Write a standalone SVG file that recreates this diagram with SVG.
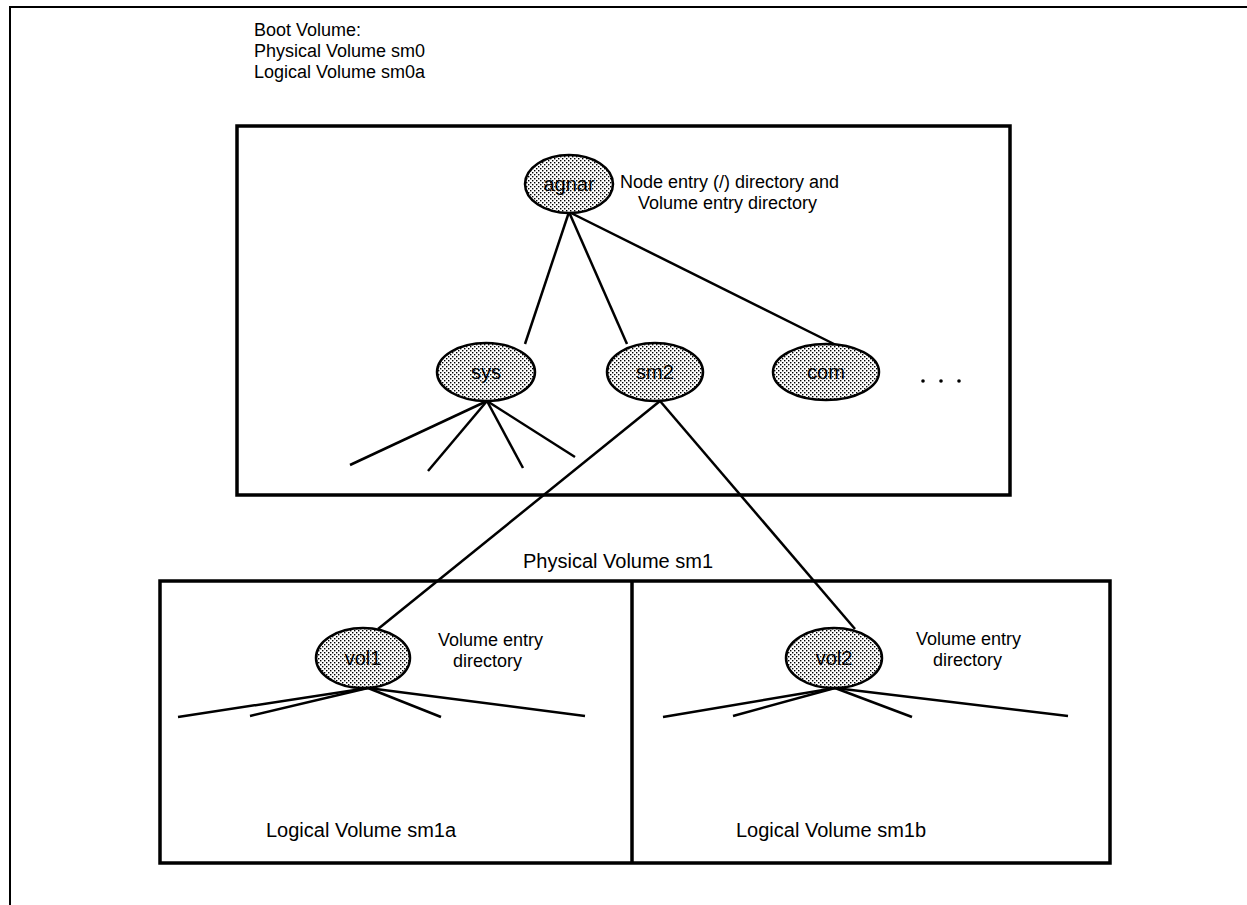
<svg xmlns="http://www.w3.org/2000/svg" width="1247" height="905" viewBox="0 0 1247 905">
<defs>
<pattern id="dots" width="4" height="4" patternUnits="userSpaceOnUse">
<rect width="4" height="4" fill="#ffffff"/>
<rect x="0" y="0" width="1.4" height="1.4" fill="#000"/>
<rect x="2" y="2" width="1.4" height="1.4" fill="#000"/>
</pattern>
<style>
.frame{fill:none;stroke:#000;stroke-width:2}
.box{fill:none;stroke:#000;stroke-width:3.5}
.node ellipse{fill:url(#dots);stroke:#000;stroke-width:2.5}
.node text{font-family:"Liberation Sans",Arial,sans-serif;font-size:20px;text-anchor:middle;fill:#000}
.lbl{font-family:"Liberation Sans",Arial,sans-serif;font-size:20px;fill:#000}
.stk{font-family:"Liberation Sans",Arial,sans-serif;font-size:18px;fill:#000}
.edge{stroke:#000;stroke-width:2.5;fill:none}
</style>
</defs>
<rect width="1247" height="905" fill="#fff"/>
<path class="frame" d="M10 905 V7 H1247"/>

<g id="labels">
<text class="stk" x="254" y="36">Boot Volume:</text>
<text class="stk" x="254" y="57">Physical Volume sm0</text>
<text class="stk" x="254" y="78">Logical Volume sm0a</text>
<text class="stk" x="620" y="188">Node entry (/) directory and</text>
<text class="stk" x="638" y="209">Volume entry directory</text>
<text class="lbl" x="523" y="568">Physical Volume sm1</text>
<text class="stk" x="438" y="646">Volume entry</text>
<text class="stk" x="453" y="667">directory</text>
<text class="stk" x="916" y="645">Volume entry</text>
<text class="stk" x="933" y="666">directory</text>
<text class="lbl" x="266" y="837">Logical Volume sm1a</text>
<text class="lbl" x="736" y="837">Logical Volume sm1b</text>
</g>

<g id="boxes">
<rect class="box" x="237" y="126" width="773" height="369"/>
<rect class="box" x="160" y="581" width="950" height="282"/>
<line class="box" x1="632" y1="581" x2="632" y2="863"/>
</g>

<g id="connectors">
<line class="edge" x1="569" y1="212" x2="525" y2="344"/>
<line class="edge" x1="569" y1="212" x2="627" y2="344"/>
<line class="edge" x1="569" y1="212" x2="838" y2="346"/>
<line class="edge" x1="487" y1="401" x2="350" y2="465"/>
<line class="edge" x1="487" y1="401" x2="428" y2="471"/>
<line class="edge" x1="487" y1="401" x2="523" y2="468"/>
<line class="edge" x1="487" y1="401" x2="575" y2="457"/>
<line class="edge" x1="660" y1="401" x2="378" y2="629"/>
<line class="edge" x1="660" y1="401" x2="855" y2="629"/>
<line class="edge" x1="368" y1="688" x2="178" y2="717"/>
<line class="edge" x1="368" y1="688" x2="250" y2="716"/>
<line class="edge" x1="368" y1="688" x2="441" y2="717"/>
<line class="edge" x1="368" y1="688" x2="585" y2="716"/>
<line class="edge" x1="835" y1="688" x2="663" y2="717"/>
<line class="edge" x1="835" y1="688" x2="733" y2="716"/>
<line class="edge" x1="835" y1="688" x2="912" y2="717"/>
<line class="edge" x1="835" y1="688" x2="1068" y2="716"/>
</g>

<g id="node-agnar" class="node"><ellipse cx="569" cy="184" rx="44" ry="29"/><text x="569" y="191">agnar</text></g>
<g id="node-sys" class="node"><ellipse cx="486" cy="372" rx="49" ry="29"/><text x="486" y="379">sys</text></g>
<g id="node-sm2" class="node"><ellipse cx="655" cy="372" rx="48" ry="29"/><text x="655" y="379">sm2</text></g>
<g id="node-com" class="node"><ellipse cx="826" cy="372" rx="53" ry="28"/><text x="826" y="379">com</text></g>
<g id="ellipsis">
<circle cx="923" cy="381" r="1.8"/><circle cx="941" cy="381" r="1.8"/><circle cx="959" cy="381" r="1.8"/>
</g>
<g id="node-vol1" class="node"><ellipse cx="363" cy="658" rx="47" ry="30"/><text x="363" y="665">vol1</text></g>
<g id="node-vol2" class="node"><ellipse cx="834" cy="658" rx="48" ry="30"/><text x="834" y="665">vol2</text></g>
</svg>
